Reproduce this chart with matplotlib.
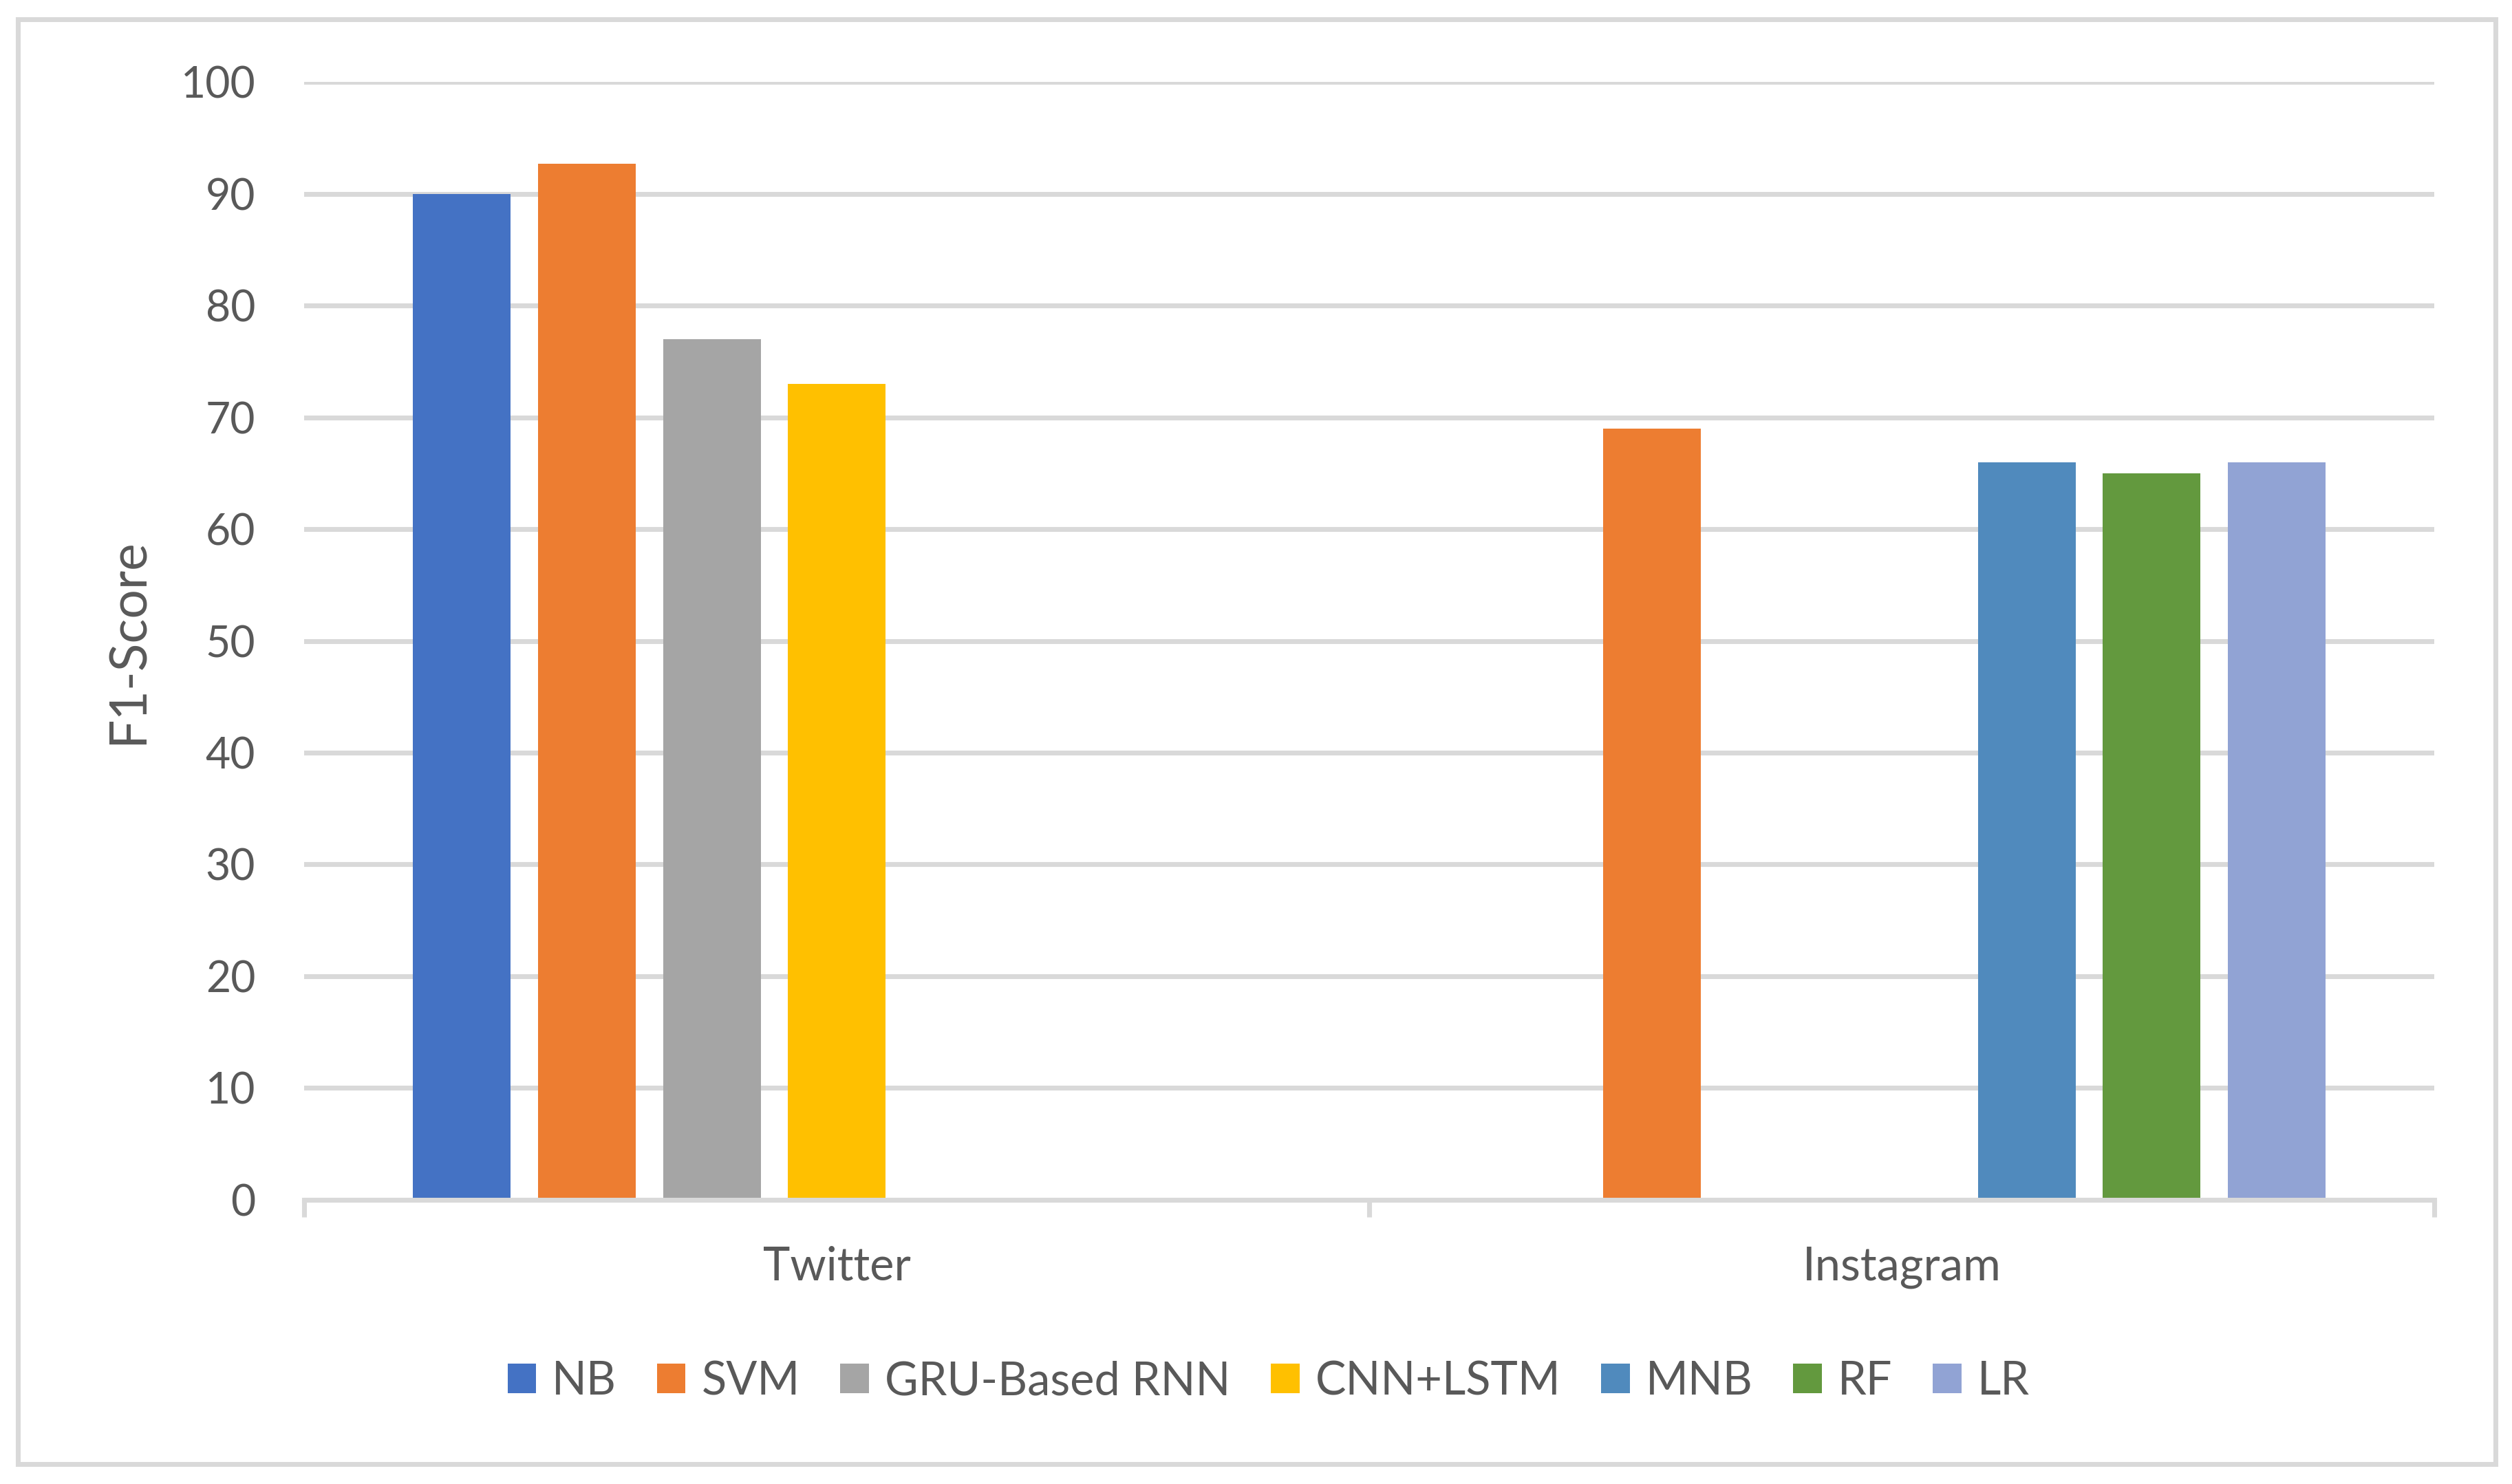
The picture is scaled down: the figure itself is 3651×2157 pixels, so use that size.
import numpy as np
import matplotlib
matplotlib.use("Agg")
import matplotlib.pyplot as plt
from matplotlib.patches import Rectangle

plt.rcParams['font.family'] = ['Lato', 'DejaVu Sans']

categories = ['Twitter', 'Instagram']
models = ['NB', 'SVM', 'GRU-Based RNN', 'CNN+LSTM', 'MNB', 'RF', 'LR']
# F1-Score per model, one value per category (None = not reported)
nb = [90.0, None]
svm = [92.7, 69.0]
gru = [77.0, None]
cnn_lstm = [73.0, None]
mnb = [None, 66.0]
rf = [None, 65.0]
lr = [None, 66.0]
series = [nb, svm, gru, cnn_lstm, mnb, rf, lr]
colors = ['#4472C4', '#ED7D31', '#A5A5A5', '#FFC000', '#508ABD', '#63993E', '#91A3D4']
yticks = [0, 10, 20, 30, 40, 50, 60, 70, 80, 90, 100]

grey_text = '#595959'
grid_col = '#D9D9D9'
fs = 15

fig = plt.figure(figsize=(12.17, 7.19), dpi=300)
ax = fig.add_axes([0.1211, 0.1915, 0.8480, 0.7533])

x = np.arange(len(categories))
step = 0.1173
width = 0.0917
for i, (name, vals, col) in enumerate(zip(models, series, colors)):
    h = np.array([np.nan if v is None else v for v in vals], dtype=float)
    ax.bar(x + (i - 3) * step, h, width=width, color=col, label=name, zorder=3)

ax.set_xlim(-0.5, 1.5)
ax.set_ylim(0, 100)
ax.set_yticks(yticks)
ax.set_xticks(x)
ax.set_xticklabels(categories)
ax.set_xticks([-0.5, 0.5, 1.5], minor=True)
ax.tick_params(axis='x', which='major', length=0, pad=16, labelsize=16, labelcolor=grey_text)
ax.tick_params(axis='x', which='minor', length=6, width=1.7, color=grid_col, direction='out')
ax.tick_params(axis='y', length=0, pad=17, labelsize=fs, labelcolor=grey_text)

ax.yaxis.grid(True, color=grid_col, linewidth=1.7, zorder=0)
ax.set_axisbelow(True)
for s in ['top', 'right', 'left']:
    ax.spines[s].set_visible(False)
ax.spines['bottom'].set_color(grid_col)
ax.spines['bottom'].set_linewidth(1.7)
ax.spines['bottom'].set_zorder(4)

fig.text(0.051, 0.568, 'F1-Score', rotation=90, ha='center', va='center',
         fontsize=18, color=grey_text)

leg = fig.legend(loc='center', bbox_to_anchor=(0.505, 0.069), ncol=7, frameon=False,
                 fontsize=16, handlelength=0.62, handleheight=0.62, handletextpad=0.35,
                 columnspacing=0.88, borderaxespad=0)
for t in leg.get_texts():
    t.set_color(grey_text)

border = Rectangle((0.0072, 0.0135), 0.9862, 0.9737, transform=fig.transFigure,
                   fill=False, edgecolor=grid_col, linewidth=1.7)
fig.patches.append(border)

fig.savefig('out.png', dpi=300, facecolor='white')
